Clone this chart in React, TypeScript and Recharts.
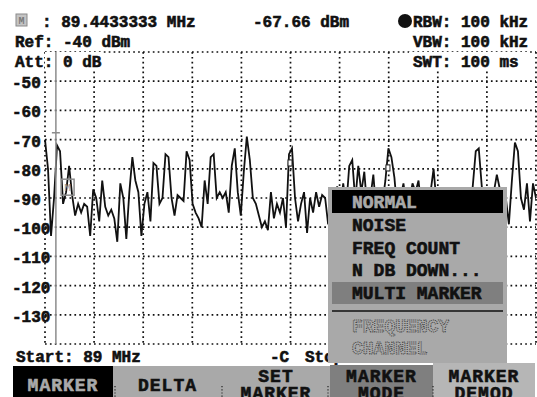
import React from "react";
import {
  LineChart,
  Line,
  XAxis,
  YAxis,
  CartesianGrid,
  ReferenceLine,
  ReferenceDot,
  ReferenceArea,
} from "recharts";

// trace levels in dBm, one sample roughly every 3 px across the span
const LEVELS = [
  -70, -80, -103, -90, -72, -74, -92, -88, -79, -89, -96, -92, -95, -92, -93, -103,
  -87, -90, -98, -84, -93, -96, -94, -97, -105, -85, -90, -104, -88, -76, -84, -88,
  -103, -92, -88, -98, -78, -79, -92, -90, -75, -76, -90, -96, -89, -90, -91, -74,
  -77, -92, -95, -97, -100, -84, -92, -76, -75, -90, -88, -90, -88, -95, -79, -73,
  -88, -96, -81, -69, -77, -90, -92, -96, -100, -98, -101, -88, -97, -92, -95, -90,
  -100, -75, -73, -90, -98, -92, -88, -102, -90, -95, -88, -93, -89, -90, -99, -87,
  -92, -86, -94, -85, -93, -79, -77, -91, -79, -88, -81, -94, -90, -82, -95, -89,
  -92, -84, -73, -76, -83, -95, -90, -85, -93, -91, -85, -88, -84, -94, -90, -96,
  -88, -80, -92, -89, -96, -90, -93, -87, -95, -91, -89, -94, -90, -92, -86, -74,
  -73, -86, -95, -90, -92, -88, -82, -87, -93, -90, -99, -84, -71, -74, -90, -94,
  -85, -98, -85, -90,
];

const FREQ_START = 89;
const FREQ_STOP = 109;
const X_TICKS = [89, 91, 93, 95, 97, 99, 101, 103, 105, 107, 109];
const Y_TICKS = [-140, -130, -120, -110, -100, -90, -80, -70, -60, -50, -40];

const MARKER_FREQ = 89.4433333;
const MARKER_LEVEL = -67.66;
const SUB_MARKERS = [
  { f: 98.98, v: -78 },
  { f: 102.97, v: -79.7 },
];

const MENU_ITEMS = ["NORMAL", "NOISE", "FREQ COUNT", "N DB DOWN...", "MULTI MARKER"];
const MENU_DISABLED = ["FREQUENCY", "CHANNEL"];
const SOFTKEYS = [["MARKER"], ["DELTA"], ["SET", "MARKER"], ["MARKER", "MODE"], ["MARKER", "DEMOD"]];

const FONT = "'Liberation Mono', 'DejaVu Sans Mono', monospace";
const GREY = "#a9a9a9";
const INK = "#111";

const data = LEVELS.map((v, i) => ({
  f: FREQ_START + (i * (FREQ_STOP - FREQ_START)) / (LEVELS.length - 1),
  v,
}));

const YTick = ({ y, payload }: any) => {
  const v = payload.value;
  if (v <= -140 || v >= -40) return <g />;
  return (
    <text
      x={12}
      y={y + 7}
      fontSize={16}
      fontWeight={700}
      fontFamily={FONT}
      fill={INK}
      stroke={INK}
      strokeWidth={0.6}
    >
      {v}
    </text>
  );
};

export default function App() {
  // softkey geometry: left edge and width of each key
  const keyX = [13, 113, 222, 330, 433];
  const keyW = [100, 109, 108, 103, 102];

  return (
    <div style={{ position: "absolute", left: 0, top: 0, width: 537, height: 397, background: "#fff" }}>
      <LineChart
        width={537}
        height={397}
        data={data}
        margin={{ top: 52, right: 1, bottom: 53, left: 0 }}
      >
        <CartesianGrid stroke={INK} strokeWidth={1.7} strokeDasharray="1.7 3.2" />
        <XAxis type="number" dataKey="f" domain={[FREQ_START, FREQ_STOP]} ticks={X_TICKS} hide />
        <YAxis
          domain={[-140, -40]}
          ticks={Y_TICKS}
          interval={0}
          width={45}
          axisLine={false}
          tickLine={false}
          tick={<YTick />}
        />
        <ReferenceArea x1={89} x2={91.36} y1={-46.2} y2={-40} fill="#fff" fillOpacity={1} stroke="none" />
        <ReferenceArea x1={103.83} x2={108.71} y1={-46.2} y2={-40} fill="#fff" fillOpacity={1} stroke="none" />
        <Line
          dataKey="v"
          type="linear"
          stroke={INK}
          strokeWidth={1.8}
          dot={false}
          isAnimationActive={false}
        />
        <ReferenceLine x={MARKER_FREQ} stroke="#8c8c8c" strokeWidth={1.5} />
        <ReferenceDot
          x={MARKER_FREQ}
          y={MARKER_LEVEL}
          shape={(p: any) => (
            <line x1={p.cx - 4} x2={p.cx + 4} y1={p.cy} y2={p.cy} stroke="#8c8c8c" strokeWidth={1.5} />
          )}
        />
        <ReferenceDot
          x={89.92}
          y={-86.3}
          shape={(p: any) => (
            <g>
              <rect x={p.cx - 6.5} y={p.cy - 8} width={13} height={16} fill="none" stroke="#8c8c8c" strokeWidth={1.5} />
              <text x={p.cx} y={p.cy + 4} fontSize={11} textAnchor="middle" fill="#9a9a9a" fontFamily={FONT}>
                M
              </text>
            </g>
          )}
        />
        {SUB_MARKERS.map((m, i) => (
          <ReferenceDot
            key={i}
            x={m.f}
            y={m.v}
            shape={(p: any) => (
              <rect x={p.cx - 2} y={p.cy - 3} width={4} height={6} fill="#fff" stroke="#222" strokeWidth={1} />
            )}
          />
        ))}
      </LineChart>

      <svg
        width={537}
        height={397}
        style={{ position: "absolute", left: 0, top: 0, pointerEvents: "none", fontWeight: 700 }}
        fontFamily={FONT}
      >
        {/* header */}
        <rect x={16} y={14} width={11} height={12} fill="#c4c4c4" stroke="#8a8a8a" />
        <text x={21.5} y={24} fontSize={10} textAnchor="middle" fill="#7a7a7a">M</text>
        <g fontSize={16} fill={INK} stroke={INK} strokeWidth={0.6}>
          <text x={42} y={27}>: 89.4433333 MHz</text>
          <text x={253} y={27}>-67.66 dBm</text>
          <text x={413} y={27}>RBW: 100 kHz</text>
          <text x={15} y={47}>Ref: -40 dBm</text>
          <text x={413} y={47}>VBW: 100 kHz</text>
          <text x={15} y={67}>Att: 0 dB</text>
          <text x={413} y={67}>SWT: 100 ms</text>
          <text x={16} y={362}>Start: 89 MHz</text>
          <text x={270} y={362}>-C</text>
          <text x={305} y={362}>Stop: 109 MHz</text>
        </g>
        <circle cx={405} cy={21} r={7} fill={INK} />

        {/* marker mode menu */}
        <rect x={328} y={187} width={179} height={176} fill={GREY} />
        <rect x={332} y={190} width={171} height={23} fill="#000" />
        <rect x={332} y={282} width={171} height={22} fill="#7f7f7f" />
        <line x1={332} x2={503} y1={311} y2={311} stroke={INK} strokeWidth={1.5} />
        <g fontSize={18} strokeWidth={0.6}>
          {MENU_ITEMS.map((t, i) => (
            <text
              key={t}
              x={352}
              y={208 + i * 22.8}
              fill={i === 0 ? GREY : INK}
              stroke={i === 0 ? GREY : INK}
            >
              {t}
            </text>
          ))}
          {MENU_DISABLED.map((t, i) => (
            <text
              key={t}
              x={352}
              y={332 + i * 21.5}
              fill="none"
              stroke="#3a3a3a"
              strokeWidth={1}
              strokeDasharray="1 1"
            >
              {t}
            </text>
          ))}
        </g>

        {/* softkeys */}
        <rect x={113} y={366} width={217} height={31} fill={GREY} />
        <rect x={13} y={366} width={100} height={31} fill="#000" />
        <rect x={330} y={365} width={103} height={32} fill="#7f7f7f" />
        <rect x={433} y={363} width={102} height={34} fill="#b6b6b6" />
        {[115, 222, 328, 433].map((x) => (
          <line key={x} x1={x} x2={x} y1={386} y2={397} stroke="#222" strokeWidth={1.2} strokeDasharray="1.2 2" />
        ))}
        <g fontSize={18} letterSpacing={1} textAnchor="middle" strokeWidth={0.6}>
          {SOFTKEYS.map((lines, i) => {
            const cx = keyX[i] + keyW[i] / 2;
            const fill = i === 0 ? GREY : INK;
            if (lines.length === 1) {
              return (
                <text key={i} x={cx} y={391} fill={fill} stroke={fill}>
                  {lines[0]}
                </text>
              );
            }
            return (
              <g key={i} fill={fill} stroke={fill}>
                <text x={cx} y={382}>{lines[0]}</text>
                <text x={cx} y={399}>{lines[1]}</text>
              </g>
            );
          })}
        </g>
      </svg>
    </div>
  );
}
